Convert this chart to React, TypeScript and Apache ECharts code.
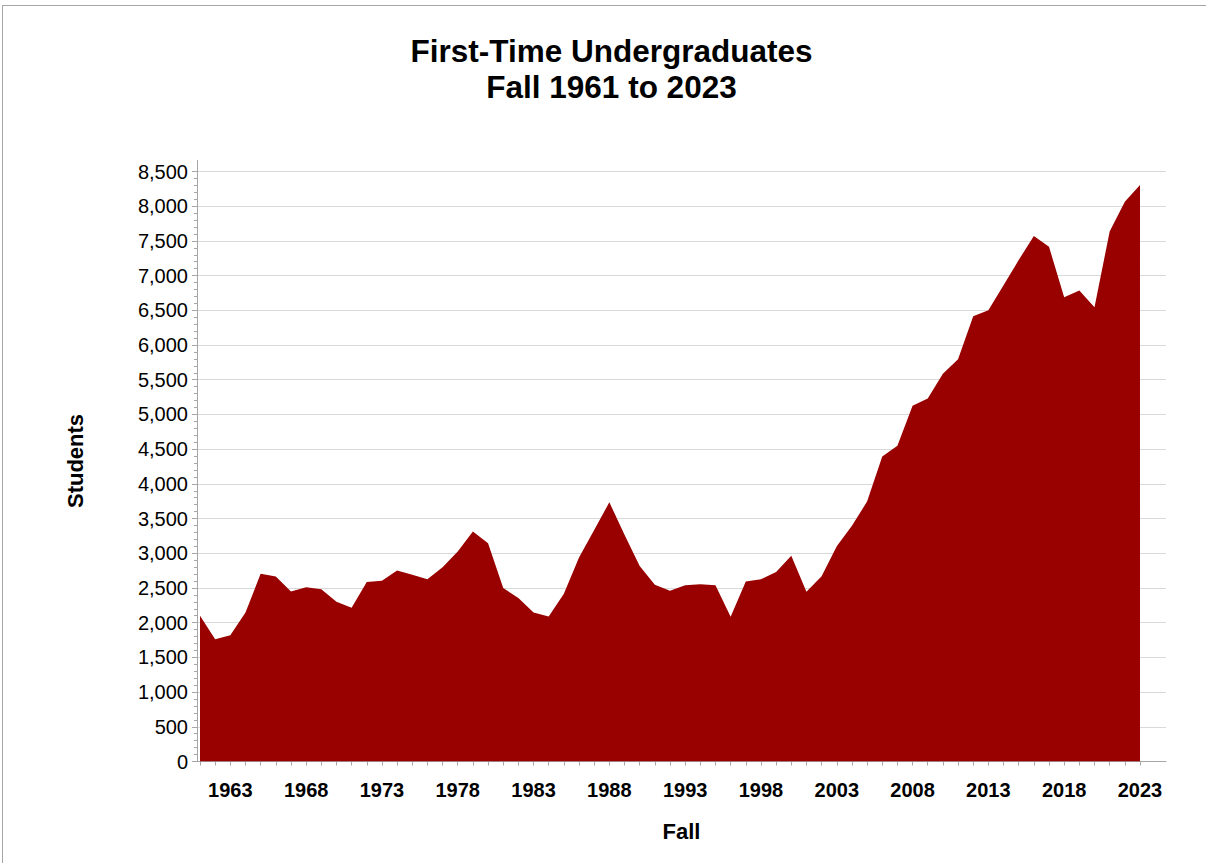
import React, { useEffect, useRef } from "react";
import * as echarts from "echarts";

const years: number[] = [];
for (let y = 1961; y <= 2023; y++) years.push(y);

const students: number[] = [
  2100, 1760, 1820, 2145, 2705, 2665, 2450, 2510, 2480, 2300,
  2215, 2585, 2605, 2750, 2690, 2625, 2800, 3025, 3315, 3145,
  2500, 2355, 2145, 2090, 2415, 2940, 3335, 3735, 3265, 2815,
  2545, 2460, 2540, 2555, 2540, 2085, 2595, 2625, 2730, 2965,
  2445, 2670, 3100, 3395, 3745, 4395, 4550, 5125, 5230, 5585,
  5795, 6415, 6500, 6860, 7225, 7570, 7415, 6690, 6785, 6545,
  7635, 8065, 8305,
];

const xLabelYears: number[] = [1963, 1968, 1973, 1978, 1983, 1988, 1993, 1998, 2003, 2008, 2013, 2018, 2023];
const yMajorTicks: number[] = [0, 500, 1000, 1500, 2000, 2500, 3000, 3500, 4000, 4500, 5000, 5500, 6000, 6500, 7000, 7500, 8000, 8500];
const yMinorTicks: number[] = [];
for (let v = 0; v <= 8500; v += 100) yMinorTicks.push(v);

const titleText = "First-Time Undergraduates\nFall 1961 to 2023";
const FONT = "'Liberation Sans', Arial, Helvetica, sans-serif";

export default function App() {
  const ref = useRef<HTMLDivElement>(null);
  useEffect(() => {
    if (!ref.current) return;
    const chart = echarts.init(ref.current, undefined, { renderer: "svg" });
    const data = years.map((y, i) => [y, students[i]]);
    chart.setOption({
      animation: false,
      backgroundColor: "#ffffff",
      textStyle: { fontFamily: FONT },
      title: {
        text: titleText,
        left: 606.5,
        top: 28,
        textAlign: "center",
        textStyle: {
          fontFamily: FONT,
          fontSize: 31.5,
          fontWeight: "bold",
          color: "#000",
          lineHeight: 36,
        },
      },
      graphic: [
        { type: "line", shape: { x1: 2, y1: 5.5, x2: 1206, y2: 5.5 }, style: { stroke: "#a6a6a6", lineWidth: 1 } },
        { type: "line", shape: { x1: 2.5, y1: 5, x2: 2.5, y2: 863 }, style: { stroke: "#a6a6a6", lineWidth: 1 } },
      ],
      grid: { left: 197, right: 40, top: 160.4, bottom: 101.5, containLabel: false },
      xAxis: {
        type: "value",
        min: 1960.802,
        max: 2024.716,
        offset: 3,
        name: "Fall",
        nameLocation: "middle",
        nameGap: 56,
        nameTextStyle: { fontFamily: FONT, fontSize: 22, fontWeight: "bold", color: "#000" },
        axisLine: { show: true, lineStyle: { color: "#a6a6a6", width: 1 } },
        axisTick: { show: true, customValues: years, length: 4, lineStyle: { color: "#a6a6a6" } },
        axisLabel: {
          customValues: xLabelYears,
          fontFamily: FONT,
          fontSize: 20,
          fontWeight: "bold",
          color: "#000",
          margin: 15,
          formatter: (v: number) => String(Math.round(v)),
        },
        splitLine: { show: false },
      },
      yAxis: [
        {
          type: "value",
          min: 0,
          max: 8660,
          name: "Students",
          nameLocation: "middle",
          nameRotate: 90,
          nameGap: 111,
          nameTextStyle: { fontFamily: FONT, fontSize: 22, fontWeight: "bold", color: "#000" },
          axisLine: { show: true, lineStyle: { color: "#a6a6a6", width: 1 } },
          axisTick: { show: true, customValues: yMajorTicks, length: 5, lineStyle: { color: "#a6a6a6" } },
          axisLabel: {
            customValues: yMajorTicks,
            fontFamily: FONT,
            fontSize: 20,
            color: "#000",
            margin: 9,
            formatter: (v: number) => Math.round(v).toLocaleString("en-US"),
          },
          splitLine: { show: true, lineStyle: { color: "#d9d9d9", width: 1 } },
        },
        {
          type: "value",
          min: 0,
          max: 8660,
          position: "left",
          axisLine: { show: false },
          axisTick: { show: true, customValues: yMinorTicks, length: 3, lineStyle: { color: "#a6a6a6" } },
          axisLabel: { show: false },
          splitLine: { show: false },
        },
      ],
      series: [
        {
          type: "line",
          data,
          yAxisIndex: 0,
          symbol: "none",
          lineStyle: { width: 0, color: "#990000" },
          areaStyle: { color: "#990000", opacity: 1 },
          itemStyle: { color: "#990000" },
          z: 3,
        },
      ],
    });
    return () => chart.dispose();
  }, []);
  return (
    <div
      ref={ref}
      style={{ position: "absolute", left: 0, top: 0, width: 1206, height: 863 }}
    />
  );
}
